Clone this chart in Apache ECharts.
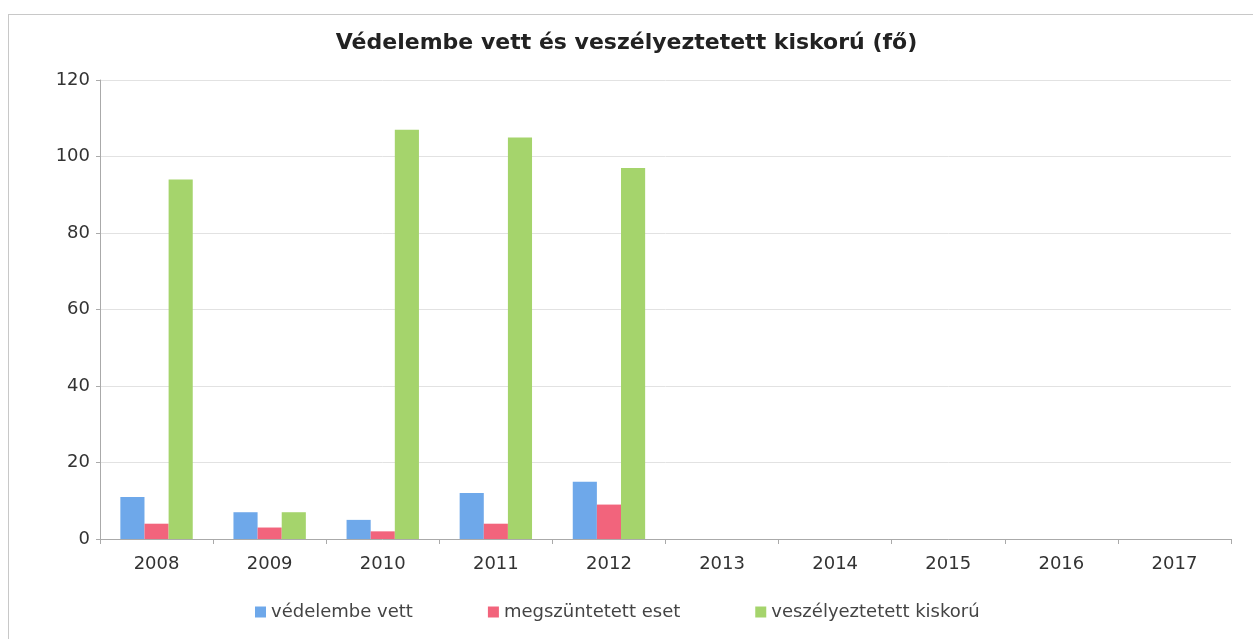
<!DOCTYPE html>
<html>
<head>
<meta charset="utf-8">
<script src="https://cdn.jsdelivr.net/npm/echarts@6/dist/echarts.min.js"></script>
<style>
  html, body { margin: 0; padding: 0; background: #fff; }
  .frame { position: absolute; left: 8px; top: 14px; width: 1260px; height: 640px; border: 1px solid #c8c8c8; }
  #chart { position: absolute; left: 0; top: 0; width: 1253px; height: 639px; }
</style>
</head>
<body>
<div class="frame"></div>
<div id="chart"></div>
<script>
var years = ['2008', '2009', '2010', '2011', '2012', '2013', '2014', '2015', '2016', '2017']
var vedelembeVett = [11, 7, 5, 12, 15, null, null, null, null, null]
var megszuntetett = [4, 3, 2, 4, 9, null, null, null, null, null]
var veszelyeztetett = [94, 7, 107, 105, 97, null, null, null, null, null]
var yTicks = [0, 20, 40, 60, 80, 100, 120]

var chart = echarts.init(document.getElementById('chart'))
var labelFont = { fontFamily: 'DejaVu Sans', fontSize: 18, color: '#333' }

var option = {
  animation: false,
  title: {
    text: 'Védelembe vett és veszélyeztetett kiskorú (fő)',
    left: 'center',
    top: 27,
    textStyle: { fontFamily: 'DejaVu Sans', fontSize: 22, fontWeight: 'bold', color: '#222' }
  },
  legend: {
    bottom: 13,
    left: 250,
    itemWidth: 11,
    itemHeight: 11,
    itemGap: 75,
    icon: 'rect',
    textStyle: { fontFamily: 'DejaVu Sans', fontSize: 18, color: '#444' },
    data: ['védelembe vett', 'megszüntetett eset', 'veszélyeztetett kiskorú']
  },
  grid: { left: 100, right: 22, top: 80, bottom: 100 },
  xAxis: {
    type: 'category',
    data: years,
    axisLine: { lineStyle: { color: '#aaa' } },
    axisTick: { show: true, lineStyle: { color: '#aaa' } },
    axisLabel: Object.assign({ margin: 16 }, labelFont)
  },
  yAxis: {
    type: 'value',
    min: yTicks[0],
    max: yTicks[yTicks.length - 1],
    interval: 20,
    axisLine: { show: true, lineStyle: { color: '#aaa' } },
    axisTick: { show: true, length: 4, lineStyle: { color: '#aaa' } },
    splitLine: { lineStyle: { color: '#e2e2e2' } },
    axisLabel: Object.assign({ margin: 10 }, labelFont)
  },
  series: [
    {
      name: 'védelembe vett',
      type: 'bar',
      data: vedelembeVett,
      barGap: '0%',
      barCategoryGap: '36%',
      itemStyle: { color: '#6ea8ea' }
    },
    {
      name: 'megszüntetett eset',
      type: 'bar',
      data: megszuntetett,
      itemStyle: { color: '#f2647c' }
    },
    {
      name: 'veszélyeztetett kiskorú',
      type: 'bar',
      data: veszelyeztetett,
      itemStyle: { color: '#a5d46c' }
    }
  ]
}
chart.setOption(option)
</script>
</body>
</html>
